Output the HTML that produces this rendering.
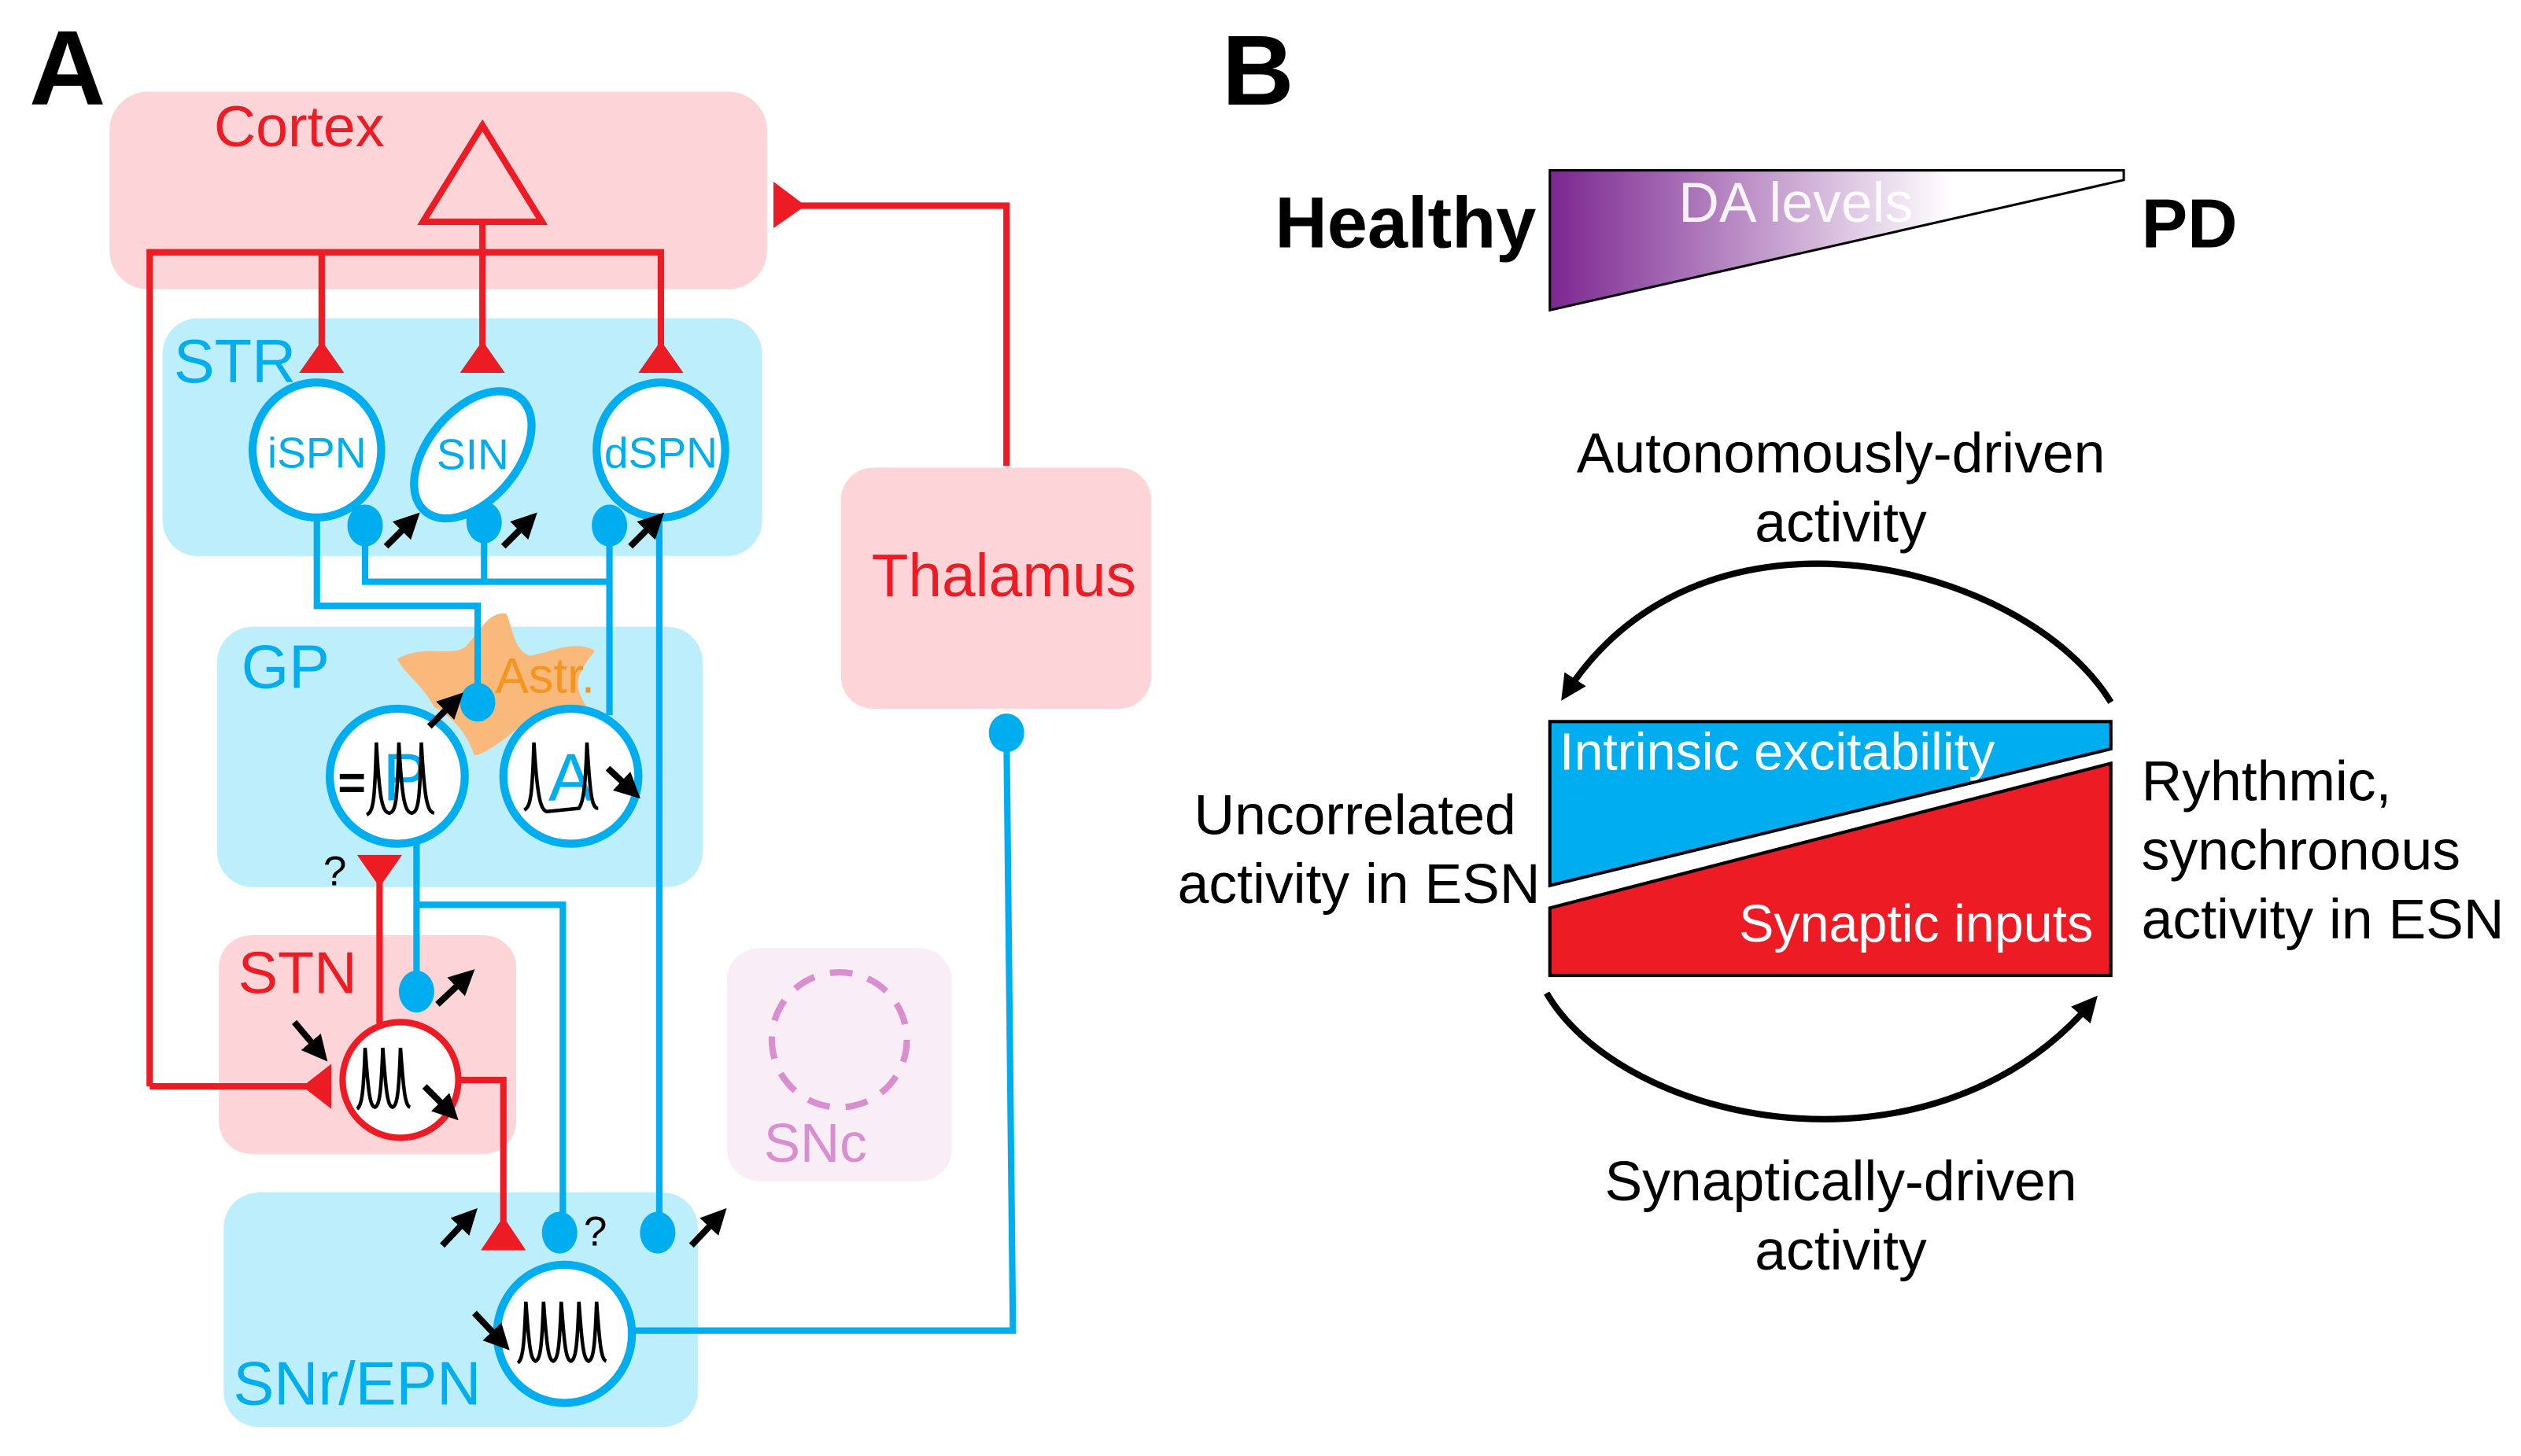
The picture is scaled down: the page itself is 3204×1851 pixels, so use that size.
<!DOCTYPE html>
<html><head><meta charset="utf-8"><style>
html,body{margin:0;padding:0;background:#fff;}
svg{display:block;}
text{font-family:"Liberation Sans",Arial,sans-serif;}
</style></head><body>
<svg width="3204" height="1851" viewBox="0 0 1568 906" xmlns="http://www.w3.org/2000/svg">
<defs>
<marker id="ah" markerWidth="4" markerHeight="4" refX="2.2" refY="2" orient="auto" markerUnits="strokeWidth">
<path d="M0,0 L4,2 L0,4 Z" fill="#000"/></marker>
<linearGradient id="da" x1="0" y1="0" x2="1" y2="0">
<stop offset="0" stop-color="#7b2790"/><stop offset="0.7" stop-color="#ffffff"/><stop offset="1" stop-color="#ffffff"/></linearGradient>
</defs>

<!-- Panel A -->
<text x="18" y="65" font-size="66" font-weight="bold">A</text>

<rect x="68" y="57" width="409" height="123" rx="24" fill="#fdd5d8"/>
<rect x="101" y="198" width="373" height="148" rx="22" fill="#bdeefb"/>
<rect x="135" y="390" width="302" height="162" rx="22" fill="#bdeefb"/>
<rect x="136" y="582" width="185" height="136" rx="20" fill="#fdd5d8"/>
<rect x="452" y="590" width="140" height="145" rx="20" fill="#f9eef5"/>
<rect x="139" y="742" width="295" height="146" rx="22" fill="#bdeefb"/>
<rect x="523" y="291" width="193" height="150" rx="20" fill="#fdd5d8"/>

<text x="133" y="91" font-size="36" fill="#ed1c24">Cortex</text>
<text x="108" y="238" font-size="38" fill="#00aeef">STR</text>
<text x="150" y="428" font-size="38" fill="#00aeef">GP</text>
<text x="148" y="618" font-size="37" fill="#ed1c24">STN</text>
<text x="475" y="723" font-size="34" fill="#d98fcf">SNc</text>
<text x="145" y="874" font-size="38" fill="#00aeef">SNr/EPN</text>
<text x="542" y="371" font-size="37.5" fill="#ed1c24">Thalamus</text>

<g stroke="#ed1c24" stroke-width="4" fill="none">
<polygon points="300,78 263,138 337,138"/>
<line x1="300" y1="138" x2="300" y2="220"/>
<polyline points="93,676 93,157 411,157 411,220"/>
<line x1="200" y1="157" x2="200" y2="220"/>
<line x1="93" y1="676" x2="195" y2="676"/>
<polyline points="626,290 626,128 495,128"/>
<line x1="236" y1="545" x2="236" y2="637"/>
<polyline points="285,672 313,672 313,765"/>
</g>
<g fill="#ed1c24">
<polygon points="200,212 186,232 214,232"/>
<polygon points="300,212 286,232 314,232"/>
<polygon points="411,212 397,232 425,232"/>
<polygon points="481,113 481,142 501,128"/>
<polygon points="206,662 206,690 188,676"/>
<polygon points="222,532 250,532 236,552"/>
<polygon points="313,757 299,778 327,778"/>
</g>

<path d="M247,410 C265,400 280,410 290,402 C300,390 305,380 315,382 C320,395 320,405 330,408 C345,405 358,398 370,405 C360,418 355,425 365,440 C350,448 335,445 325,450 C315,460 300,470 295,470 C290,455 280,445 270,440 C262,425 252,420 247,410 Z" fill="#f8b97a"/>
<text x="308" y="431" font-size="31" fill="#f7941d">Astr.</text>

<g stroke="#00aeef" stroke-width="4" fill="none">
<polyline points="197,322 197,377 297,377 297,437"/>
<polyline points="227,327 227,362 379,362"/>
<line x1="301" y1="325" x2="301" y2="362"/>
<line x1="379" y1="327" x2="379" y2="445"/>
<line x1="410" y1="322" x2="410" y2="767"/>
<line x1="259" y1="525" x2="259" y2="617"/>
<polyline points="259,563 350,563 350,767"/>
<polyline points="393,828 630,828 626,456"/>
</g>
<g fill="#00aeef">
<ellipse cx="227" cy="327" rx="11" ry="13"/>
<ellipse cx="301" cy="325" rx="11" ry="13"/>
<ellipse cx="379" cy="327" rx="11" ry="13"/>
<ellipse cx="297" cy="437" rx="11" ry="12"/>
<ellipse cx="259" cy="617" rx="11" ry="13"/>
<ellipse cx="348" cy="767" rx="11" ry="13"/>
<ellipse cx="409" cy="767" rx="11" ry="13"/>
<ellipse cx="626" cy="456" rx="11" ry="12"/>
</g>

<g fill="#fff" stroke="#00aeef" stroke-width="5">
<ellipse cx="197" cy="280" rx="40" ry="42"/>
<ellipse cx="294" cy="283" rx="46" ry="28" transform="rotate(-50 294 283)"/>
<ellipse cx="411" cy="280" rx="40" ry="42"/>
<ellipse cx="247" cy="483" rx="42" ry="42"/>
<ellipse cx="355" cy="483" rx="42" ry="42"/>
<ellipse cx="351" cy="830" rx="42" ry="43"/>
</g>
<ellipse cx="249" cy="672" rx="36" ry="36" fill="#fff" stroke="#ed1c24" stroke-width="4"/>
<circle cx="522" cy="647" r="42" fill="none" stroke="#d98fcf" stroke-width="4" stroke-dasharray="14,10"/>

<text x="197" y="291" font-size="27" fill="#00aeef" text-anchor="middle">iSPN</text>
<text x="294" y="292" font-size="27" fill="#00aeef" text-anchor="middle">SIN</text>
<text x="411" y="291" font-size="27" fill="#00aeef" text-anchor="middle">dSPN</text>
<text x="252" y="498" font-size="42" fill="#00aeef" text-anchor="middle">P</text>
<text x="355" y="498" font-size="42" fill="#00aeef" text-anchor="middle">A</text>
<text x="210" y="497" font-size="30" font-weight="bold">=</text>

<g stroke="#000" stroke-width="2.2" fill="none">
<path d="M228,507 C232,505 233,500 234,462 C236,500 238,505 242,506 C246,505 247,500 248,462 C250,500 252,505 256,506 C260,505 261,500 262,462 C264,500 266,505 270,506"/>
<path d="M326,504 C330,502 331,495 332,462 C334,495 336,504 340,505 L360,503 C362,500 364,495 365,462 C367,495 368,503 372,503"/>
<path d="M222,690 C225,688 226,680 227,652 C229,680 230,688 233,689 C236,688 237,680 238,652 C240,680 241,688 244,689 C247,688 248,680 249,652 C251,680 252,688 255,689"/>
<path d="M322,848 C325,846 326,838 327,810 C329,838 330,846 333,847 C336,846 337,838 338,810 C340,838 341,846 344,847 C347,846 348,838 349,810 C351,838 352,846 355,847 C358,846 359,838 360,810 C362,838 363,846 366,847 C369,846 370,838 371,810 C373,838 374,846 377,847"/>
</g>

<g stroke="#000" stroke-width="4" fill="none" marker-end="url(#ah)">
<line x1="240" y1="340" x2="256" y2="324"/>
<line x1="313" y1="340" x2="329" y2="324"/>
<line x1="392" y1="340" x2="408" y2="324"/>
<line x1="267" y1="452" x2="283" y2="436"/>
<line x1="378" y1="478" x2="393" y2="492"/>
<line x1="272" y1="625" x2="290" y2="608"/>
<line x1="183" y1="636" x2="199" y2="655"/>
<line x1="264" y1="676" x2="280" y2="692"/>
<line x1="275" y1="775" x2="292" y2="757"/>
<line x1="430" y1="775" x2="447" y2="757"/>
<line x1="295" y1="817" x2="312" y2="835"/>
</g>
<text x="201" y="551" font-size="26">?</text>
<text x="363" y="775" font-size="26">?</text>

<!-- Panel B -->
<text x="760" y="65" font-size="62" font-weight="bold">B</text>
<polygon points="964,106 1321,106 1321,112 964,193" fill="url(#da)" stroke="#000" stroke-width="1.5"/>
<text x="1044" y="138" font-size="35" fill="#fff" fill-opacity="0.9">DA levels</text>
<text x="793" y="154" font-size="45" font-weight="bold">Healthy</text>
<text x="1332" y="154" font-size="43" font-weight="bold">PD</text>

<g font-size="35" text-anchor="middle">
<text x="1145" y="294">Autonomously-driven</text>
<text x="1145" y="337">activity</text>
<text x="1145" y="747">Synaptically-driven</text>
<text x="1145" y="790">activity</text>
</g>
<g stroke="#000" stroke-width="4" fill="none" marker-end="url(#ah)">
<path d="M1313,437 C1260,350 1060,300 975,430"/>
<path d="M962,618 C1010,700 1200,740 1300,625"/>
</g>

<polygon points="964,449 1313,449 1313,466 964,551" fill="#00aeef" stroke="#000" stroke-width="2"/>
<polygon points="964,565 1313,475 1313,607 964,607" fill="#ed1c24" stroke="#000" stroke-width="2"/>
<text x="970" y="479" font-size="32.5" fill="#fff">Intrinsic excitability</text>
<text x="1302" y="586" font-size="32.5" fill="#fff" text-anchor="end">Synaptic inputs</text>

<g font-size="35">
<text x="943" y="519" text-anchor="end">Uncorrelated</text>
<text x="958" y="562" text-anchor="end">activity in ESN</text>
<text x="1332" y="498">Ryhthmic,</text>
<text x="1332" y="541">synchronous</text>
<text x="1332" y="584">activity in ESN</text>
</g>
</svg>
</body></html>
